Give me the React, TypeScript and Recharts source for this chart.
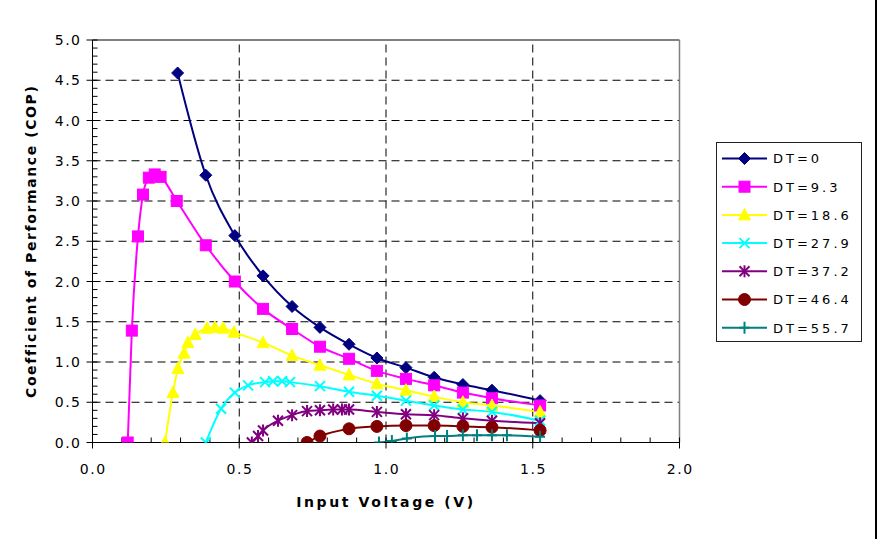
import React from "react";
import { LineChart, Line, XAxis, YAxis, ReferenceLine, Label } from "recharts";

// ---- data ----
const seriesNames = ["DT=0", "DT=9.3", "DT=18.6", "DT=27.9", "DT=37.2", "DT=46.4", "DT=55.7"];

const vDT0 = [0.29, 0.386, 0.485, 0.581, 0.68, 0.775, 0.874, 0.969, 1.068, 1.164, 1.262, 1.361, 1.525];
const copDT0 = [4.59, 3.32, 2.57, 2.07, 1.69, 1.43, 1.22, 1.05, 0.93, 0.81, 0.72, 0.65, 0.52];

const vDT93 = [0.12, 0.134, 0.155, 0.172, 0.192, 0.212, 0.232, 0.287, 0.386, 0.485, 0.581, 0.68, 0.775, 0.874, 0.969, 1.068, 1.164, 1.262, 1.361, 1.525];
const copDT93 = [0, 1.39, 2.56, 3.08, 3.29, 3.33, 3.3, 3.0, 2.45, 2.0, 1.66, 1.41, 1.19, 1.04, 0.89, 0.79, 0.71, 0.62, 0.55, 0.46];

const vDT186 = [0.247, 0.274, 0.291, 0.312, 0.325, 0.35, 0.39, 0.417, 0.445, 0.482, 0.581, 0.68, 0.775, 0.874, 0.969, 1.068, 1.164, 1.262, 1.361, 1.525];
const copDT186 = [0, 0.62, 0.92, 1.11, 1.24, 1.34, 1.42, 1.43, 1.42, 1.37, 1.24, 1.08, 0.96, 0.84, 0.73, 0.65, 0.57, 0.5, 0.46, 0.38];

const vDT279 = [0.386, 0.438, 0.485, 0.53, 0.588, 0.615, 0.646, 0.673, 0.775, 0.874, 0.969, 1.068, 1.164, 1.262, 1.361, 1.525];
const copDT279 = [0, 0.42, 0.62, 0.71, 0.75, 0.76, 0.76, 0.75, 0.7, 0.63, 0.58, 0.52, 0.46, 0.41, 0.38, 0.27];

const vDT372 = [0.543, 0.564, 0.581, 0.632, 0.68, 0.731, 0.775, 0.82, 0.85, 0.874, 0.969, 1.068, 1.164, 1.262, 1.361, 1.525];
const copDT372 = [0, 0.08, 0.15, 0.27, 0.34, 0.39, 0.4, 0.41, 0.41, 0.41, 0.38, 0.35, 0.34, 0.3, 0.27, 0.24];

const vDT464 = [0.731, 0.775, 0.874, 0.969, 1.068, 1.164, 1.262, 1.361, 1.525];
const copDT464 = [0, 0.08, 0.17, 0.2, 0.21, 0.21, 0.2, 0.19, 0.15];

const vDT557 = [0.976, 1.02, 1.071, 1.167, 1.208, 1.262, 1.31, 1.361, 1.412, 1.525];
const copDT557 = [0, 0.02, 0.05, 0.08, 0.08, 0.09, 0.09, 0.09, 0.09, 0.07];

const xMajorTicks = [0, 0.5, 1.0, 1.5, 2.0];
const yMajorTicks = [0, 0.5, 1.0, 1.5, 2.0, 2.5, 3.0, 3.5, 4.0, 4.5, 5.0];
const xGridValues = [0.5, 1.0, 1.5];
const yGridValues = [0.5, 1.0, 1.5, 2.0, 2.5, 3.0, 3.5, 4.0, 4.5];
const xAllTicks = Array.from({ length: 21 }, (_, i) => i / 10);
const yAllTicks = Array.from({ length: 51 }, (_, i) => i / 10);

const toPoints = (xs: number[], ys: number[]) => xs.map((x, i) => ({ x, y: ys[i] }));

type Kind = "diamond" | "square" | "triangle" | "x" | "star" | "circle" | "plus";

const series: { name: string; color: string; kind: Kind; data: { x: number; y: number }[] }[] = [
  { name: seriesNames[0], color: "#000080", kind: "diamond", data: toPoints(vDT0, copDT0) },
  { name: seriesNames[1], color: "#FF00FF", kind: "square", data: toPoints(vDT93, copDT93) },
  { name: seriesNames[2], color: "#FFFF00", kind: "triangle", data: toPoints(vDT186, copDT186) },
  { name: seriesNames[3], color: "#00FFFF", kind: "x", data: toPoints(vDT279, copDT279) },
  { name: seriesNames[4], color: "#800080", kind: "star", data: toPoints(vDT372, copDT372) },
  { name: seriesNames[5], color: "#800000", kind: "circle", data: toPoints(vDT464, copDT464) },
  { name: seriesNames[6], color: "#008080", kind: "plus", data: toPoints(vDT557, copDT557) },
];

function markerShape(kind: Kind, cx: number, cy: number, color: string) {
  switch (kind) {
    case "diamond":
      return <polygon points={`${cx},${cy - 6} ${cx + 6},${cy} ${cx},${cy + 6} ${cx - 6},${cy}`} fill={color} stroke={color} strokeWidth={1} />;
    case "square":
      return <rect x={cx - 5.5} y={cy - 5.5} width={11} height={11} fill={color} stroke={color} strokeWidth={1} />;
    case "triangle":
      return <polygon points={`${cx},${cy - 6.5} ${cx + 6},${cy + 5} ${cx - 6},${cy + 5}`} fill={color} stroke={color} strokeWidth={1} />;
    case "x":
      return (
        <g stroke={color} strokeWidth={2}>
          <line x1={cx - 5} y1={cy - 5} x2={cx + 5} y2={cy + 5} />
          <line x1={cx - 5} y1={cy + 5} x2={cx + 5} y2={cy - 5} />
        </g>
      );
    case "star":
      return (
        <g stroke={color} strokeWidth={2}>
          <line x1={cx - 5} y1={cy - 5} x2={cx + 5} y2={cy + 5} />
          <line x1={cx - 5} y1={cy + 5} x2={cx + 5} y2={cy - 5} />
          <line x1={cx} y1={cy - 6} x2={cx} y2={cy + 6} />
        </g>
      );
    case "circle":
      return <circle cx={cx} cy={cy} r={6} fill={color} stroke={color} strokeWidth={1} />;
    case "plus":
      return (
        <g stroke={color} strokeWidth={2}>
          <line x1={cx - 5} y1={cy} x2={cx + 5} y2={cy} />
          <line x1={cx} y1={cy - 6} x2={cx} y2={cy + 6} />
        </g>
      );
  }
}

const makeDot = (kind: Kind, color: string) => (props: any) => {
  const { cx, cy, index } = props;
  if (cx == null || cy == null) return <g key={`${kind}-${index}`} />;
  return <g key={`${kind}-${index}`}>{markerShape(kind, cx, cy, color)}</g>;
};

const isMajor = (v: number) => Math.abs(v * 2 - Math.round(v * 2)) < 1e-6;
const TICK_OUT = 6;
const TICK_IN = 5;
const TICK_FONT = 14;
const TICK_SPACING = "1.5px";

// tick marks drawn from the axis scale via ReferenceLine shapes
const yTickShape = (major: boolean) => (p: any) => {
  const x0 = Math.min(Number(p.x1), Number(p.x2));
  const yy = Number(p.y1);
  return <path d={`M${major ? x0 - TICK_OUT : x0},${yy}H${x0 + TICK_IN}`} stroke="#000" strokeWidth={1} fill="none" />;
};
const xTickShape = (major: boolean) => (p: any) => {
  const yb = Math.max(Number(p.y1), Number(p.y2));
  const xx = Number(p.x1);
  return <path d={`M${xx},${yb - TICK_IN}V${major ? yb + TICK_OUT : yb}`} stroke="#000" strokeWidth={1} fill="none" />;
};

const YTick = (props: any) => {
  const { x, y, payload } = props;
  const v = payload.value as number;
  return (
    <text x={x} y={y} dy="0.36em" textAnchor="end" fontSize={TICK_FONT} fill="#000" style={{ letterSpacing: TICK_SPACING }}>
      {v.toFixed(1)}
    </text>
  );
};

const XTick = (props: any) => {
  const { x, y, payload } = props;
  const v = payload.value as number;
  return (
    <text x={x + 0.75} y={y} dy="0.72em" textAnchor="middle" fontSize={TICK_FONT} fill="#000" style={{ letterSpacing: TICK_SPACING }}>
      {v.toFixed(1)}
    </text>
  );
};

const YTitle = (props: any) => {
  const vb = props.viewBox || { x: 32.5, y: 40, width: 60, height: 402.5 };
  const x = vb.x - 1.5;
  const y = vb.y + vb.height / 2;
  return (
    <text x={x} y={y} transform={`rotate(-90, ${x}, ${y})`} textAnchor="middle" dominantBaseline="central" fontSize={14} fontWeight="bold" fill="#000" style={{ letterSpacing: "1.6px" }}>
      Coefficient of Performance (COP)
    </text>
  );
};

const XTitle = (props: any) => {
  const vb = props.viewBox || { x: 92.5, y: 442.5, width: 587, height: 96.5 };
  const x = vb.x + vb.width / 2;
  const y = vb.y + 59.5;
  return (
    <text x={x} y={y} textAnchor="middle" dominantBaseline="central" fontSize={14} fontWeight="bold" fill="#000" style={{ letterSpacing: "2.6px" }}>
      Input Voltage (V)
    </text>
  );
};

function LegendBox() {
  const rowGap = 28.2;
  return (
    <svg width={147} height={201} style={{ position: "absolute", left: 715.5, top: 141.5, overflow: "visible" }}>
      <rect x={0.5} y={0.5} width={145} height={199} fill="#fff" stroke="#222" strokeWidth={1} />
      {series.map((s, i) => {
        const cy = 16.5 + rowGap * i;
        return (
          <g key={s.name}>
            <line x1={6} y1={cy} x2={51} y2={cy} stroke={s.color} strokeWidth={2} />
            {markerShape(s.kind, 28.5, cy, s.color)}
            <text x={57} y={cy + 4.8} fontSize={13} fill="#000" style={{ letterSpacing: "3px" }}>
              {s.name}
            </text>
          </g>
        );
      })}
    </svg>
  );
}

export default function App() {
  return (
    <div
      style={{
        position: "absolute",
        left: 0,
        top: 0,
        width: 878,
        height: 539,
        background: "#fff",
        fontFamily: '"DejaVu Sans", Verdana, sans-serif',
        overflow: "hidden",
      }}
    >
      <LineChart width={878} height={539} margin={{ top: 40, right: 198.5, left: 32.5, bottom: 0 }}>
        {yGridValues.map((v) => (
          <ReferenceLine key={`gy${v}`} y={v} stroke="#000" strokeDasharray="8 5" strokeWidth={1} />
        ))}
        {xGridValues.map((v) => (
          <ReferenceLine key={`gx${v}`} x={v} stroke="#000" strokeDasharray="8 5" strokeWidth={1} />
        ))}
        <ReferenceLine y={5} stroke="#808080" strokeWidth={2} />
        <ReferenceLine x={2} stroke="#808080" strokeWidth={1.5} />
        {yAllTicks.map((v) => (
          <ReferenceLine key={`ty${v}`} y={v} ifOverflow="visible" shape={yTickShape(isMajor(v))} />
        ))}
        {xAllTicks.map((v) => (
          <ReferenceLine key={`tx${v}`} x={v} ifOverflow="visible" shape={xTickShape(isMajor(v))} />
        ))}
        <XAxis
          type="number"
          dataKey="x"
          domain={[0, 2]}
          ticks={xMajorTicks}
          interval={0}
          allowDataOverflow
          height={96.5}
          stroke="#000"
          tickLine={false}
          tickSize={6}
          tickMargin={15}
          tick={<XTick />}
        >
          <Label content={<XTitle />} />
        </XAxis>
        <YAxis
          type="number"
          domain={[0, 5]}
          ticks={yMajorTicks}
          interval={0}
          allowDataOverflow
          width={60}
          stroke="#000"
          tickLine={false}
          tickSize={6}
          tickMargin={5}
          tick={<YTick />}
        >
          <Label content={<YTitle />} />
        </YAxis>
        {series.map((s) => (
          <Line
            key={s.name}
            name={s.name}
            data={s.data}
            dataKey="y"
            type="monotone"
            stroke={s.color}
            strokeWidth={2}
            dot={makeDot(s.kind, s.color)}
            activeDot={false}
            isAnimationActive={false}
          />
        ))}
      </LineChart>
      <LegendBox />
      <div style={{ position: "absolute", left: 874.5, top: 0, width: 2, height: 539, background: "#000" }} />
    </div>
  );
}
